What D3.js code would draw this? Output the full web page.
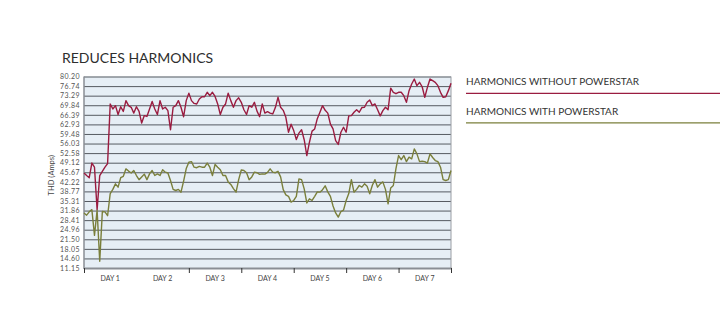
<!DOCTYPE html>
<html>
<head>
<meta charset="utf-8">
<script src="https://cdn.jsdelivr.net/npm/d3@7"></script>
<style>
  html, body { margin: 0; padding: 0; background: #fff; }
  svg { display: block; }
  text { font-family: Lato, 'Noto Sans', sans-serif; }
</style>
</head>
<body>
<svg id="chart" width="723" height="323"></svg>
<script>
// Readings every 1/20 of a day, from the start of day 1 to the end of day 7
const withoutPowerstar = [
  45.4, 44.5, 43.7, 49.0, 47.5, 32.2, 44.5, 46.0, 47.5, 48.8,
  70.3, 68.5, 69.7, 66.5, 69.3, 67.6, 71.5, 69.7, 69.1, 67.0,
  69.3, 67.6, 63.4, 66.1, 65.8, 68.5, 71.2, 68.5, 66.5, 71.5,
  68.5, 69.1, 67.9, 61.0, 69.1, 69.7, 71.5, 69.1, 65.7, 71.5,
  74.2, 71.5, 70.5, 70.3, 72.1, 72.9, 72.9, 74.5, 73.3, 74.5,
  73.0, 70.3, 66.5, 69.1, 70.3, 74.2, 71.5, 69.1, 71.5, 72.5,
  70.9, 68.2, 66.5, 69.7, 69.1, 70.9, 67.7, 65.7, 70.3, 67.0,
  67.5, 67.0, 66.7, 69.0, 72.7, 69.1, 68.0, 65.5, 60.1, 63.0,
  60.7, 57.5, 59.8, 61.0, 57.4, 51.7, 56.5, 60.5, 61.3, 65.0,
  67.3, 69.7, 68.0, 67.0, 63.0, 61.3, 57.1, 55.7, 60.1, 61.9,
  60.1, 66.0, 66.1, 67.3, 68.2, 67.3, 69.0, 69.1, 70.9, 71.7,
  69.7, 70.3, 68.2, 66.0, 67.9, 69.1, 68.2, 76.0, 74.5, 74.0,
  74.5, 74.5, 73.3, 70.9, 75.1, 77.5, 79.3, 76.9, 78.1, 76.5,
  72.7, 76.3, 79.3, 78.7, 78.1, 76.9, 74.5, 72.7, 72.9, 75.1,
  77.8
]

const withPowerstar = [
  31.0, 30.2, 31.4, 32.2, 22.9, 32.0, 13.6, 31.5, 31.4, 30.0,
  38.0, 39.5, 41.5, 40.3, 43.7, 44.2, 46.9, 46.1, 45.4, 46.3,
  44.5, 43.0, 44.0, 45.0, 43.0, 45.1, 46.3, 44.5, 45.1, 44.5,
  46.6, 45.7, 45.4, 42.7, 39.5, 39.1, 39.5, 38.5, 42.5, 47.0,
  49.3, 49.5, 47.5, 47.3, 47.8, 47.5, 47.5, 49.0, 47.5, 44.5,
  48.5, 47.5, 46.6, 44.5, 44.5, 42.2, 41.3, 39.8, 38.5, 43.0,
  46.5, 46.3, 45.5, 43.0, 44.0, 45.7, 45.5, 44.9, 45.1, 45.0,
  45.6, 46.9, 45.7, 45.5, 46.0, 44.0, 39.4, 37.5, 37.0, 34.9,
  35.5, 37.0, 43.3, 43.0, 39.7, 34.6, 36.1, 35.5, 37.0, 38.6,
  38.5, 39.4, 40.8, 38.6, 37.0, 33.5, 31.0, 29.5, 31.5, 32.0,
  35.5, 38.0, 43.0, 38.5, 39.5, 40.9, 40.3, 41.5, 40.6, 37.9,
  41.0, 43.0, 40.3, 41.5, 42.2, 39.5, 34.3, 40.0, 40.9, 47.0,
  51.7, 50.2, 51.7, 49.5, 51.1, 50.5, 54.1, 52.3, 49.5, 49.7,
  49.5, 49.0, 52.3, 51.0, 49.9, 49.5, 47.5, 43.0, 42.7, 43.0,
  46.3
]

const yTicks = [
  80.20, 76.74, 73.29, 69.84, 66.39, 62.93, 59.48, 56.03, 52.58, 49.12,
  45.67, 42.22, 38.77, 35.31, 31.86, 28.41, 24.96, 21.50, 18.05, 14.60, 11.15
]

const dayLabels = ['DAY 1', 'DAY 2', 'DAY 3', 'DAY 4', 'DAY 5', 'DAY 6', 'DAY 7']
const dayTicks = [0, 2, 3, 4, 5, 6, 7]

const seriesNames = ['HARMONICS WITHOUT POWERSTAR', 'HARMONICS WITH POWERSTAR']
const seriesColors = ['#9a1c40', '#7a7f3b']

const margin = { top: 76.5, right: 272, bottom: 55, left: 84 }
const width = 723 - margin.left - margin.right
const height = 323 - margin.top - margin.bottom

const svg = d3.select('#chart')

const x = d3.scaleLinear().domain([0, 7]).range([0, width])
const y = d3.scaleLinear().domain([11.15, 80.20]).range([height, 0])

const g = svg.append('g')
  .attr('transform', `translate(${margin.left},${margin.top})`)

/**
 * Draws the plot background, the grid and the axes.
 */
function drawFrame () {
  g.append('rect')
    .attr('width', width)
    .attr('height', height)
    .attr('fill', '#e6eef5')

  // horizontal grid + y labels
  const yAxis = g.append('g')
    .call(d3.axisLeft(y)
      .tickValues(yTicks)
      .tickSize(-width)
      .tickPadding(4)
      .tickFormat(d3.format('.2f')))
  yAxis.select('.domain').remove()
  yAxis.selectAll('line')
    .attr('stroke', '#555a61')
    .attr('stroke-width', 1)
  yAxis.selectAll('text')
    .attr('fill', '#555')
    .style('font-size', '7px')
    .style('letter-spacing', '0.4px')

  // frame
  g.append('line')
    .attr('x1', 0).attr('x2', 0)
    .attr('y1', 0).attr('y2', height + 1)
    .attr('stroke', '#8a8e94').attr('stroke-width', 1.5)
  g.append('line')
    .attr('x1', width).attr('x2', width)
    .attr('y1', 0).attr('y2', height)
    .attr('stroke', '#9a9ea4').attr('stroke-width', 1)

  // bottom axis with day separators
  const xAxis = g.append('g')
    .attr('transform', `translate(0,${height})`)
    .call(d3.axisBottom(x)
      .tickValues(dayTicks)
      .tickSize(5)
      .tickSizeOuter(0)
      .tickFormat(''))
  xAxis.select('.domain')
    .attr('stroke', '#8a8e94')
    .attr('stroke-width', 2)
  xAxis.selectAll('line')
    .attr('stroke', '#333')
    .attr('stroke-width', 1)

  g.selectAll('.day-label')
    .data(dayLabels)
    .enter()
    .append('text')
    .attr('class', 'day-label')
    .attr('x', (d, i) => x(i + 0.5))
    .attr('y', height + 13)
    .attr('text-anchor', 'middle')
    .attr('fill', '#444')
    .style('font-size', '7px')
    .text(d => d)

  g.append('text')
    .attr('transform', `translate(-30,${height / 2 + 3}) rotate(-90)`)
    .attr('text-anchor', 'middle')
    .attr('fill', '#444')
    .style('font-size', '7.5px')
    .text('THD (Amps)')
}

/**
 * Draws both series as lines.
 */
function drawLines () {
  const line = d3.line()
    .x((d, i) => x(i / 20))
    .y(d => y(d))

  ;[withoutPowerstar, withPowerstar].forEach((data, k) => {
    g.append('path')
      .datum(data)
      .attr('fill', 'none')
      .attr('stroke', seriesColors[k])
      .attr('stroke-width', 1.4)
      .attr('stroke-linejoin', 'round')
      .attr('d', line)
  })
}

/**
 * Draws the title and the legend on the right.
 */
function drawTexts () {
  svg.append('text')
    .attr('x', 62)
    .attr('y', 63)
    .attr('fill', '#2e2e2e')
    .style('font-size', '14px')
    .style('font-weight', 400)
    .text('REDUCES HARMONICS')

  const legend = svg.selectAll('.legend')
    .data(seriesNames)
    .enter()
    .append('g')
    .attr('class', 'legend')
    .attr('transform', (d, i) => `translate(466,${85 + i * 29.5})`)

  legend.append('text')
    .attr('fill', '#333')
    .style('font-size', '10px')
    .text(d => d)

  legend.append('line')
    .attr('x1', 0).attr('x2', 254)
    .attr('y1', 8.3).attr('y2', 8.3)
    .attr('stroke', (d, i) => seriesColors[i])
    .attr('stroke-width', 1.2)
}

drawFrame()
drawLines()
drawTexts()
</script>
</body>
</html>
